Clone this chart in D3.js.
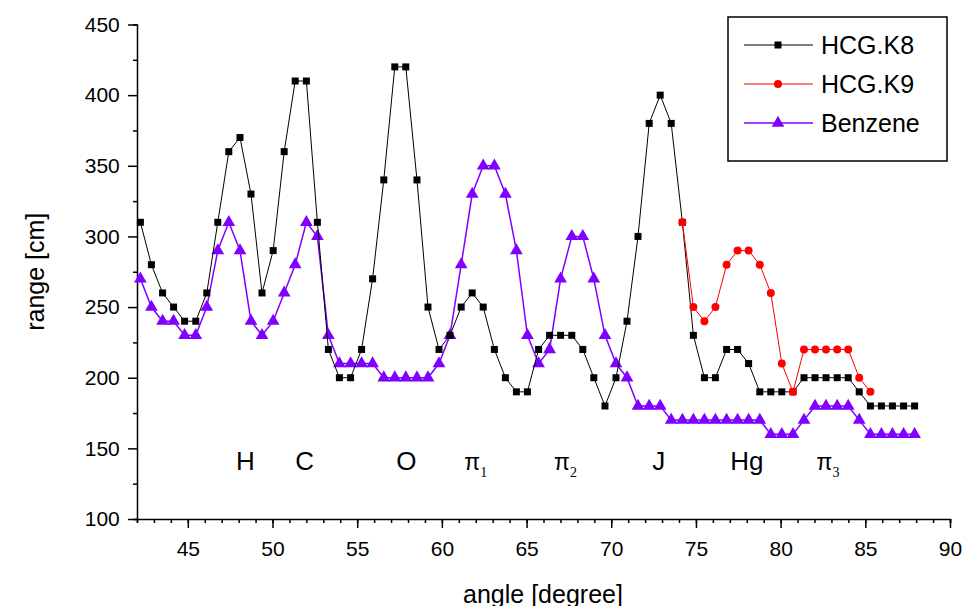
<!DOCTYPE html>
<html>
<head>
<meta charset="utf-8">
<script src="https://cdn.jsdelivr.net/npm/d3@7"></script>
<style>
  body { margin: 0; background: #fff; }
  text { font-family: "Liberation Sans", Arial, sans-serif; }
</style>
</head>
<body>
<svg id="chart" width="965" height="606"></svg>
<script>
// angles of the measured points (degree)
const angles = [42.20, 42.85, 43.51, 44.16, 44.81, 45.47, 46.12, 46.77, 47.42, 48.08,
  48.73, 49.38, 50.04, 50.69, 51.34, 52.00, 52.65, 53.30, 53.95, 54.61,
  55.26, 55.91, 56.57, 57.22, 57.87, 58.53, 59.18, 59.83, 60.48, 61.14,
  61.79, 62.44, 63.10, 63.75, 64.40, 65.05, 65.71, 66.36, 67.01, 67.67,
  68.32, 68.97, 69.63, 70.28, 70.93, 71.58, 72.24, 72.89, 73.54, 74.20,
  74.85, 75.50, 76.15, 76.81, 77.46, 78.11, 78.77, 79.42, 80.07, 80.73,
  81.38, 82.03, 82.68, 83.34, 83.99, 84.64, 85.30, 85.95, 86.60, 87.26, 87.91];

const hcgK8 = [310, 280, 260, 250, 240, 240, 260, 310, 360, 370,
  330, 260, 290, 360, 410, 410, 310, 220, 200, 200,
  220, 270, 340, 420, 420, 340, 250, 220, 230, 250,
  260, 250, 220, 200, 190, 190, 220, 230, 230, 230,
  220, 200, 180, 200, 240, 300, 380, 400, 380, 310,
  230, 200, 200, 220, 220, 210, 190, 190, 190, 190,
  200, 200, 200, 200, 200, 190, 180, 180, 180, 180, 180];

// HCG.K9 starts at index 49
const k9Start = 49;
const hcgK9 = [310, 250, 240, 250, 280, 290, 290, 280, 260, 210, 190,
  220, 220, 220, 220, 220, 200, 190];

const benzene = [270, 250, 240, 240, 230, 230, 250, 290, 310, 290,
  240, 230, 240, 260, 280, 310, 300, 230, 210, 210,
  210, 210, 200, 200, 200, 200, 200, 210, 230, 280,
  330, 350, 350, 330, 290, 230, 210, 220, 270, 300,
  300, 270, 230, 210, 200, 180, 180, 180, 170, 170,
  170, 170, 170, 170, 170, 170, 170, 160, 160, 160,
  170, 180, 180, 180, 180, 170, 160, 160, 160, 160, 160];

const xTicks = [45, 50, 55, 60, 65, 70, 75, 80, 85, 90];
const yTicks = [100, 150, 200, 250, 300, 350, 400, 450];

// peak labels: [text, subscript, angle, range]
const peakLabels = [
  ["H", "", 48.4, 135], ["C", "", 51.9, 135], ["O", "", 57.9, 135],
  ["π", "1", 62.0, 135], ["π", "2", 67.3, 135], ["J", "", 72.8, 135],
  ["Hg", "", 78.0, 135], ["π", "3", 82.8, 135]
];

const svg = d3.select("#chart");
const x = d3.scaleLinear().domain([42, 90]).range([137, 950]);
const y = d3.scaleLinear().domain([100, 450]).range([519, 24.5]);

// axes
const xAxis = svg.append("g").attr("transform", `translate(0,${y(100)})`)
  .call(d3.axisBottom(x).tickValues(d3.range(42, 91, 1)).tickSize(4).tickFormat(""));
xAxis.append("g").call(d3.axisBottom(x).tickValues(xTicks).tickSize(9).tickFormat(d3.format("d")));
const yAxis = svg.append("g").attr("transform", `translate(${x(42)},0)`)
  .call(d3.axisLeft(y).tickValues(d3.range(125, 450, 50)).tickSize(4).tickFormat(""));
yAxis.append("g").call(d3.axisLeft(y).tickValues(yTicks).tickSize(9).tickFormat(d3.format("d")));
svg.selectAll(".domain").attr("stroke", "#000").attr("stroke-width", 1.5);
svg.selectAll(".tick line").attr("stroke", "#000").attr("stroke-width", 1.5);
xAxis.selectAll(".tick text").attr("font-size", 21).attr("fill", "#000").attr("dy", "1.2em");
yAxis.selectAll(".tick text").attr("font-size", 21).attr("fill", "#000").attr("dx", "-0.25em");
svg.selectAll(".domain").filter(function () { return this.parentNode.parentNode !== svg.node(); }).remove();

svg.append("text").attr("x", 543).attr("y", 603).attr("text-anchor", "middle")
  .attr("font-size", 25).text("angle [degree]");
svg.append("text").attr("transform", `translate(44,${y(275)}) rotate(-90)`)
  .attr("text-anchor", "middle").attr("font-size", 25).text("range [cm]");

const line = d3.line().x(d => x(d[0])).y(d => y(d[1]));
const sq = d3.symbol().type(d3.symbolSquare).size(49);
const ci = d3.symbol().type(d3.symbolCircle).size(50);
const tr = d3.symbol().type(d3.symbolTriangle).size(70);

function drawSeries(pts, color, width, sym) {
  svg.append("path").datum(pts).attr("fill", "none").attr("stroke", color)
    .attr("stroke-width", width).attr("d", line);
  svg.append("g").selectAll("path").data(pts).join("path")
    .attr("transform", d => `translate(${x(d[0])},${y(d[1])})`)
    .attr("d", sym).attr("fill", color);
}

drawSeries(angles.map((a, i) => [a, benzene[i]]), "#8000ff", 1.5, tr);
drawSeries(angles.map((a, i) => [a, hcgK8[i]]), "#000", 1, sq);
drawSeries(hcgK9.map((v, i) => [angles[k9Start + i], v]), "#ff0000", 1, ci);

// peak labels
peakLabels.forEach(([t, sub, a, r]) => {
  const isGreek = t === "π";
  const tx = svg.append("text").attr("x", x(a)).attr("y", y(r))
    .attr("text-anchor", "middle").attr("font-size", isGreek ? 23 : 26)
    .attr("font-family", isGreek ? "'Liberation Serif', 'Times New Roman', serif" : null)
    .text(t);
  if (sub) tx.append("tspan").attr("dy", 7).attr("font-size", 14)
    .attr("font-family", "'Liberation Serif', serif").text(sub);
});

// legend
const lg = svg.append("g");
lg.append("rect").attr("x", 728).attr("y", 17).attr("width", 219).attr("height", 144)
  .attr("fill", "#fff").attr("stroke", "#000").attr("stroke-width", 1.5);
const legendItems = [["HCG.K8", "#000", sq, 1], ["HCG.K9", "#ff0000", ci, 1], ["Benzene", "#8000ff", tr, 1.5]];
legendItems.forEach(([name, color, sym, w], i) => {
  const yy = 45 + i * 39;
  lg.append("line").attr("x1", 744).attr("x2", 813).attr("y1", yy).attr("y2", yy)
    .attr("stroke", color).attr("stroke-width", w);
  lg.append("path").attr("transform", `translate(778,${yy})`).attr("d", sym).attr("fill", color);
  lg.append("text").attr("x", 821).attr("y", yy + 9).attr("font-size", 25).text(name);
});
</script>
</body>
</html>
